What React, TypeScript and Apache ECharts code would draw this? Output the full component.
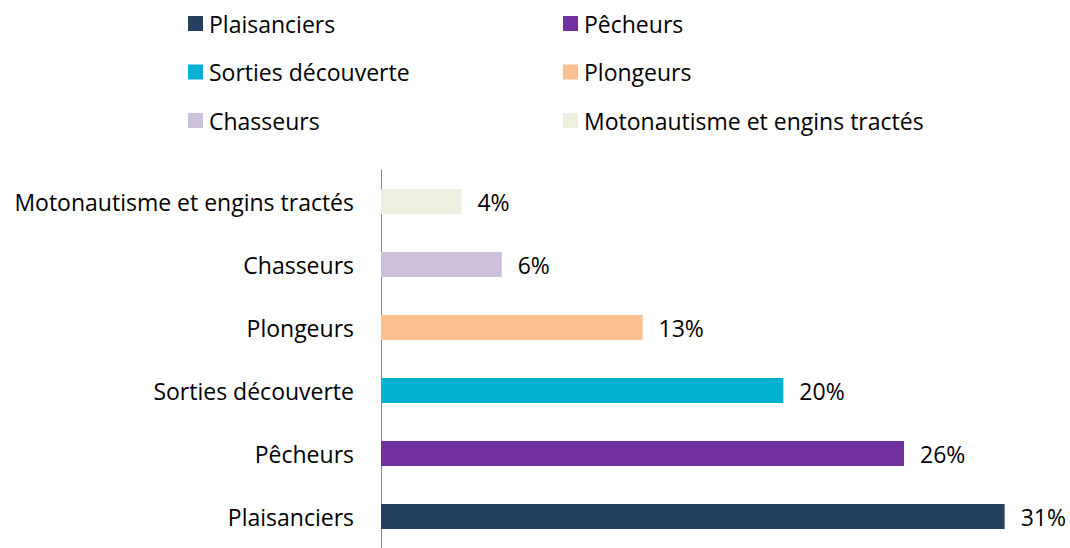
import React, { useEffect, useRef } from "react";
import * as echarts from "echarts";

const categories = [
  "Plaisanciers",
  "Pêcheurs",
  "Sorties découverte",
  "Plongeurs",
  "Chasseurs",
  "Motonautisme et engins tractés",
];
const values = [31, 26, 20, 13, 6, 4];
const colors = ["#243F60", "#7030A0", "#00B0D0", "#FAC090", "#CCC0DA", "#EBF1DE"];
const legendLeft = ["Plaisanciers", "Sorties découverte", "Chasseurs"];
const legendRight = ["Pêcheurs", "Plongeurs", "Motonautisme et engins tractés"];

const FONT = "'Open Sans', 'Noto Sans', sans-serif";
const FS = 23;

export default function App() {
  const ref = useRef<HTMLDivElement>(null);
  useEffect(() => {
    document.body.style.margin = "0";
    const chart = echarts.init(ref.current!, null, { renderer: "svg" });
    const legendCommon = {
      orient: "vertical",
      top: 12,
      padding: 0,
      itemWidth: 15,
      itemHeight: 15,
      itemGap: 25.5,
      icon: "rect",
      selectedMode: false,
      textStyle: { fontSize: FS, fontFamily: FONT, color: "#000", lineHeight: 20, padding: [0, 0, 0, 1] },
    };
    chart.setOption({
      animation: false,
      textStyle: { fontFamily: FONT },
      legend: [
        { ...legendCommon, left: 188, data: legendLeft },
        { ...legendCommon, left: 563, data: legendRight },
      ],
      grid: { left: 381, top: 170, right: 5, height: 382, containLabel: false },
      xAxis: {
        type: "value",
        min: 0,
        max: 34,
        show: false,
      },
      yAxis: {
        type: "category",
        data: categories,
        axisLine: { show: true, lineStyle: { color: "#868686", width: 1 } },
        axisTick: { show: false },
        axisLabel: { fontSize: FS, color: "#000", fontFamily: FONT, margin: 27 },
      },
      series: categories.map((c, i) => ({
        name: c,
        type: "bar",
        stack: "all",
        barWidth: 25,
        itemStyle: { color: colors[i] },
        data: categories.map((_, j) => (j === i ? values[i] : "-")),
        label: {
          show: true,
          position: "right",
          distance: 16,
          formatter: "{c}%",
          fontSize: FS,
          color: "#000",
          fontFamily: FONT,
        },
      })),
    });
    return () => chart.dispose();
  }, []);
  return <div ref={ref} style={{ width: 1070, height: 548 }} />;
}
